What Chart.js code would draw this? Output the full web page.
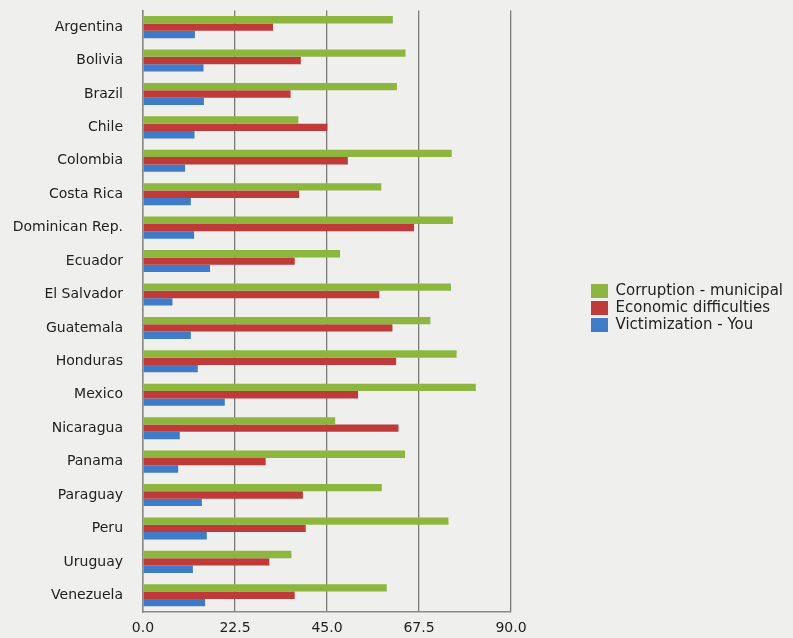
<!DOCTYPE html>
<html>
<head>
<meta charset="utf-8">
<script src="https://cdn.jsdelivr.net/npm/chart.js@4.4.1/dist/chart.umd.min.js"></script>
<style>
  html, body { margin: 0; padding: 0; background: #efefed; }
  #wrap { width: 793px; height: 638px; position: relative; }
</style>
</head>
<body>
<div id="wrap"><canvas id="c" width="793" height="638"></canvas></div>
<script>
const countries = ["Argentina","Bolivia","Brazil","Chile","Colombia","Costa Rica","Dominican Rep.","Ecuador","El Salvador","Guatemala","Honduras","Mexico","Nicaragua","Panama","Paraguay","Peru","Uruguay","Venezuela"];
const corruptionMunicipal = [61.1,64.2,62.1,38.0,75.5,58.3,75.8,48.2,75.3,70.3,76.7,81.4,47.0,64.1,58.4,74.7,36.3,59.6];
const economicDifficulties = [31.8,38.6,36.1,45.1,50.1,38.2,66.3,37.1,57.8,61.0,61.9,52.6,62.5,30.0,39.1,39.8,30.9,37.1];
const victimizationYou = [12.7,14.8,14.9,12.6,10.3,11.7,12.5,16.4,7.2,11.7,13.4,20.0,9.0,8.6,14.4,15.6,12.2,15.2];
const seriesNames = ["Corruption - municipal","Economic difficulties","Victimization - You"];
const xTicks = [0, 22.5, 45, 67.5, 90];

const font = { family: "'DejaVu Sans', Verdana, sans-serif", size: 14 };
const legendFont = { family: "'DejaVu Sans', Verdana, sans-serif", size: 15 };
const textColor = "#222222";

const legendShift = {
  id: "legendShift",
  afterLayout(chart) {
    const lg = chart.legend;
    if (lg) { lg.top -= 16; lg.bottom -= 16; }
  }
};

new Chart(document.getElementById("c"), {
  type: "bar",
  data: {
    labels: countries,
    datasets: [
      { label: seriesNames[0], data: corruptionMunicipal, backgroundColor: "#8db63f" },
      { label: seriesNames[1], data: economicDifficulties, backgroundColor: "#c03a3a" },
      { label: seriesNames[2], data: victimizationYou, backgroundColor: "#3e7cc9" }
    ]
  },
  plugins: [legendShift],
  options: {
    indexAxis: "y",
    responsive: false,
    animation: false,
    datasets: { bar: { categoryPercentage: 0.66, barPercentage: 1.0 } },
    layout: { padding: { top: 10, left: 0, right: 0, bottom: 0 } },
    plugins: {
      legend: {
        position: "right",
        maxWidth: 260,
        labels: {
          font: legendFont, color: textColor,
          boxWidth: 17, boxHeight: 14, padding: 2
        }
      },
      tooltip: { enabled: false }
    },
    scales: {
      x: {
        min: xTicks[0], max: xTicks[xTicks.length - 1],
        afterBuildTicks: s => { s.ticks = xTicks.map(v => ({ value: v })); },
        ticks: { font: font, color: textColor, padding: 8, callback: v => Number(v).toFixed(1) },
        grid: { color: "#7a7a7a", lineWidth: 1.3, tickLength: 0, drawTicks: false },
        border: { color: "#8a8a8a", width: 1.5 },
        afterFit: s => { s.height = 26; }
      },
      y: {
        ticks: { font: font, color: textColor, padding: 2 },
        grid: { display: true, drawOnChartArea: false, drawTicks: true, tickLength: 18, color: "rgba(0,0,0,0)" },
        border: { color: "#8a8a8a", width: 1.5 },
        afterFit: s => { s.width = 143; }
      },
      gap: {
        type: "linear",
        position: "right",
        display: true,
        ticks: { display: false, padding: 0 },
        grid: { display: false, drawTicks: false },
        border: { display: false },
        afterFit: s => { s.width = 78; }
      }
    }
  }
});
</script>
</body>
</html>
